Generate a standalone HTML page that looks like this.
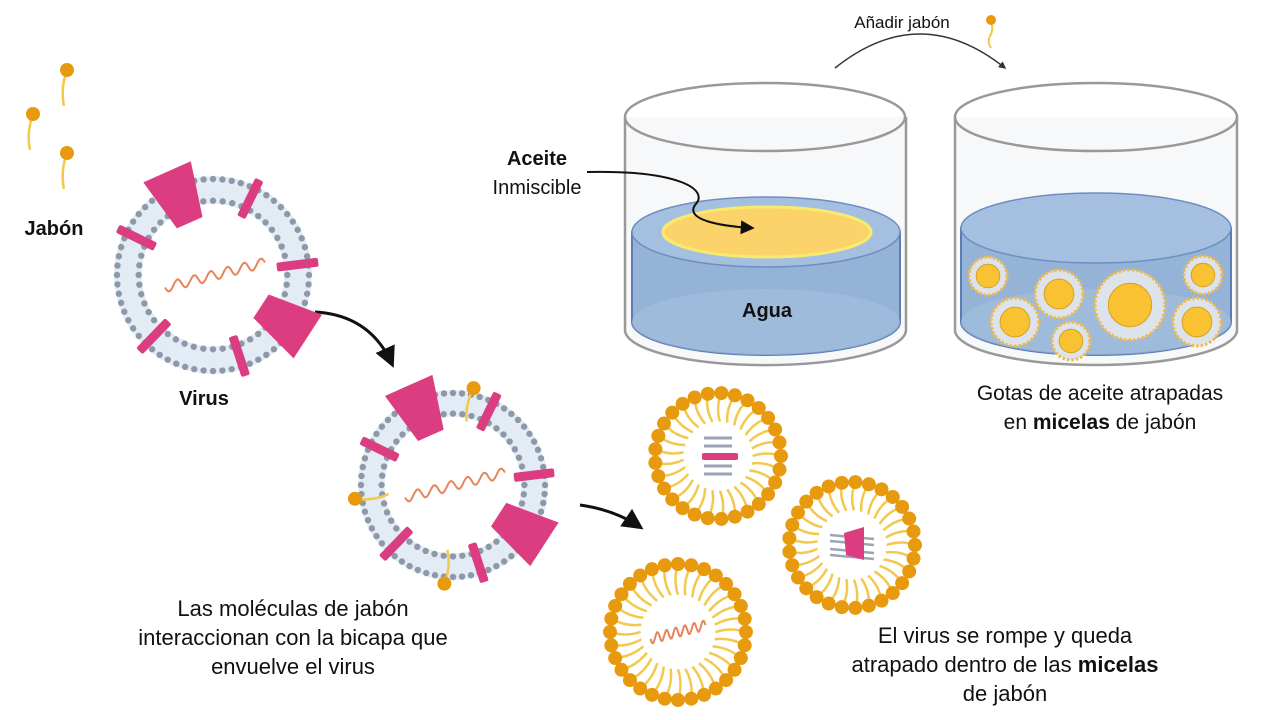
<!DOCTYPE html>
<html><head><meta charset="utf-8">
<style>
html,body{margin:0;padding:0;background:#fff;}
svg{display:block;}
text{font-family:"Liberation Sans",sans-serif;fill:#111;}
</style></head>
<body>
<svg id="s" width="1280" height="720" viewBox="0 0 1280 720" xmlns="http://www.w3.org/2000/svg">
<defs>
<marker id="ah" viewBox="0 0 10 10" refX="8" refY="5" markerWidth="7" markerHeight="7" orient="auto"><path d="M0,0L10,5L0,10z" fill="#111"/></marker>
<marker id="ah2" viewBox="0 0 10 10" refX="8" refY="5" markerWidth="5" markerHeight="5" orient="auto"><path d="M0,0L10,5L0,10z" fill="#333"/></marker>
</defs>

<g>
<path d="M625,117 L625,330 A140,35 0 0 0 906,330 L906,117" fill="#f7f8fa" stroke="#999" stroke-width="2.5"/>
<path d="M632,232 L632,322 A134,33 0 0 0 900,322 L900,232 Z" fill="#94b3d6" stroke="#5b7db0" stroke-width="2"/>
<ellipse cx="766" cy="322" rx="134" ry="33" fill="#a6c0dd" opacity="0.6"/>
<ellipse cx="766" cy="232" rx="134" ry="35" fill="#a5bfe0" stroke="#6d8fc0" stroke-width="1.5"/>
<ellipse cx="767" cy="232" rx="104" ry="25" fill="#fcd36a" stroke="#f7ea6c" stroke-width="3"/>
<ellipse cx="765" cy="117" rx="140" ry="34" fill="none" stroke="#999" stroke-width="2.5"/>
</g>
<g>
<path d="M955,117 L955,330 A141,35 0 0 0 1237,330 L1237,117" fill="#f7f8fa" stroke="#999" stroke-width="2.5"/>
<path d="M961,228 L961,322 A135,33 0 0 0 1231,322 L1231,228 Z" fill="#94b3d6" stroke="#5b7db0" stroke-width="2"/>
<ellipse cx="1096" cy="322" rx="135" ry="33" fill="#a6c0dd" opacity="0.6"/>
<ellipse cx="1096" cy="228" rx="135" ry="35" fill="#a5bfe0" stroke="#6d8fc0" stroke-width="1.5"/>
<g id="minis"></g>
<ellipse cx="1096" cy="117" rx="141" ry="34" fill="none" stroke="#999" stroke-width="2.5"/>
</g>

<path d="M835,68 Q920,0 1005,68" fill="none" stroke="#333" stroke-width="1.5" marker-end="url(#ah2)"/>
<text x="902" y="28" font-size="17" text-anchor="middle">Añadir jabón</text>
<g><path d="M991,22 q3,8 -1,14 q-3,6 1,12" stroke="#f2c94c" stroke-width="2" fill="none"/><circle cx="991" cy="20" r="5" fill="#e89a0f"/></g>

<text x="537" y="165" font-size="20" font-weight="bold" text-anchor="middle">Aceite</text>
<text x="537" y="194" font-size="20" text-anchor="middle">Inmiscible</text>
<path d="M587,172 C680,170 710,190 695,205 C685,220 720,226 752,228" fill="none" stroke="#111" stroke-width="2" marker-end="url(#ah)"/>
<text x="767" y="317" font-size="20" font-weight="bold" text-anchor="middle">Agua</text>
<text x="1100" y="400" font-size="21" text-anchor="middle">Gotas de aceite atrapadas</text>
<text x="1100" y="429" font-size="21" text-anchor="middle">en <tspan font-weight="bold">micelas</tspan> de jabón</text>

<text x="54" y="235" font-size="20" font-weight="bold" text-anchor="middle">Jabón</text>
<text x="204" y="405" font-size="20" font-weight="bold" text-anchor="middle">Virus</text>

<path d="M315,312 Q370,315 392,364" fill="none" stroke="#111" stroke-width="3" marker-end="url(#ah)"/>
<path d="M580,505 Q615,510 640,527" fill="none" stroke="#111" stroke-width="3" marker-end="url(#ah)"/>

<text x="293" y="616" font-size="22" text-anchor="middle">Las moléculas de jabón</text>
<text x="293" y="645" font-size="22" text-anchor="middle">interaccionan con la bicapa que</text>
<text x="293" y="674" font-size="22" text-anchor="middle">envuelve el virus</text>
<text x="1005" y="643" font-size="22" text-anchor="middle">El virus se rompe y queda</text>
<text x="1005" y="672" font-size="22" text-anchor="middle">atrapado dentro de las <tspan font-weight="bold">micelas</tspan></text>
<text x="1005" y="701" font-size="22" text-anchor="middle">de jabón</text>
<g id="dyn"></g>
</svg>
<script>
const NS="http://www.w3.org/2000/svg";
const dyn=document.getElementById('dyn');
function el(t,a,p){const e=document.createElementNS(NS,t);for(const k in a)e.setAttribute(k,a[k]);(p||dyn).appendChild(e);return e;}
const rad=d=>d*Math.PI/180;
function soap(x,y,ang,len,g){
  const ex=x+Math.cos(rad(ang))*len, ey=y+Math.sin(rad(ang))*len;
  const px=-Math.sin(rad(ang))*5, py=Math.cos(rad(ang))*5;
  el('path',{d:`M${x},${y} Q${(x+ex)/2+px},${(y+ey)/2+py} ${ex},${ey}`,stroke:'#f2c94c','stroke-width':2.5,fill:'none'},g);
  el('circle',{cx:x,cy:y,r:7,fill:'#e89a0f'},g);
}
function rna(cx,cy,w,g){
  let d='';const x0=cx-w/2;
  for(let i=0;i<=60;i++){const t=i/60;const x=x0+t*w, y=cy+ (w*0.25)*(0.5-t)+Math.sin(t*Math.PI*12)*5;d+=(i?'L':'M')+x.toFixed(1)+','+y.toFixed(1);}
  el('path',{d,stroke:'#e8845a','stroke-width':2,fill:'none'},g);
}
function virus(cx,cy,R,name,soaps){
  const g=el('g',{});
  
  
  const ri=R*0.72;
  el('circle',{cx,cy,r:(R+ri)/2,fill:'none',stroke:'#e3ebf4','stroke-width':R-ri},g);
  for(const [r,n] of [[R-3,64],[ri+3,48]]){
    for(let i=0;i<n;i++){const a=2*Math.PI*i/n;el('circle',{cx:cx+Math.cos(a)*r,cy:cy+Math.sin(a)*r,r:3.2,fill:'#8d99a8'},g);}
  }
  const bars=[-64,-7,72,134,206];
  for(const a of bars){const x=cx+Math.cos(rad(a))*(R+ri)/2,y=cy+Math.sin(rad(a))*(R+ri)/2;
    el('rect',{x:-(R-ri+14)/2,y:-4.5,width:R-ri+14,height:9,rx:2,fill:'#db3d80',transform:`translate(${x},${y}) rotate(${a})`},g);}
  for(const a of [-114,33]){
    const x=cx+Math.cos(rad(a))*(R+ri)/2,y=cy+Math.sin(rad(a))*(R+ri)/2,h=(R-ri)/2+14;
    el('path',{d:`M${-h},-14 L${h},-26 L${h},26 L${-h},14Z`,fill:'#db3d80',transform:`translate(${x},${y}) rotate(${a})`},g);}
  rna(cx+2,cy,100,g);
  (soaps||[]).forEach(a=>soap(cx+Math.cos(rad(a))*(R+4),cy+Math.sin(rad(a))*(R+4),a+180,34,g));
}
virus(213,275,99,'virus-intact');
virus(453,485,95,'virus-with-soap',[-78,172,95]);

const soapMolecules=[[67,70],[33,114],[67,153]];
soapMolecules.forEach(p=>{const g=el('g',{});soap(p[0],p[1],95,36,g);});

function micelle(cx,cy,R,name,content){
  const g=el('g',{});
  
  
  const n=Math.round(2*Math.PI*R/13.5);
  for(let i=0;i<n;i++){const a=360*i/n;soap(cx+Math.cos(rad(a))*R,cy+Math.sin(rad(a))*R,a+180,R*0.45,g);}
  if(content==='bar'){
    for(const dy of [-18,-10,10,18]) el('line',{x1:cx-14,y1:cy+dy,x2:cx+14,y2:cy+dy,stroke:'#9aa6b6','stroke-width':3},g);
    el('rect',{x:cx-16,y:cy-3,width:36,height:7,rx:2,fill:'#db3d80'},g);
  } else if(content==='trap'){
    for(const dy of [-10,-4,4,10]) el('line',{x1:cx-22,y1:cy+dy,x2:cx+22,y2:cy+dy+4,stroke:'#9aa6b6','stroke-width':2.5},g);
    el('path',{d:`M${cx-8},${cy-12} L${cx+12},${cy-18} L${cx+12},${cy+15} L${cx-6},${cy+10}Z`,fill:'#db3d80'},g);
  } else {rna(cx,cy,55,g);}
}
micelle(718,456,63,'micelle-membrane-fragment','bar');
micelle(852,545,63,'micelle-protein-fragment','trap');
micelle(678,632,68,'micelle-rna','rna');

const miniX=[988,1059,1130,1203,1015,1197,1071];
const miniY=[276,294,305,275,322,322,341];
const miniR=[19,24,35,19,24,24,19];
const mg=document.getElementById('minis');
miniX.forEach((x,i)=>{
  const y=miniY[i],r=miniR[i];
  const g=el('g',{},mg);
  
  
  el('circle',{cx:x,cy:y,r:r,fill:'#dde3ea',stroke:'#f2b949','stroke-width':3,'stroke-dasharray':'2.5 2'},g);
  el('circle',{cx:x,cy:y,r:r*0.62,fill:'#f8c232',stroke:'#d9a020','stroke-width':1},g);
});
</script>
</body></html>
